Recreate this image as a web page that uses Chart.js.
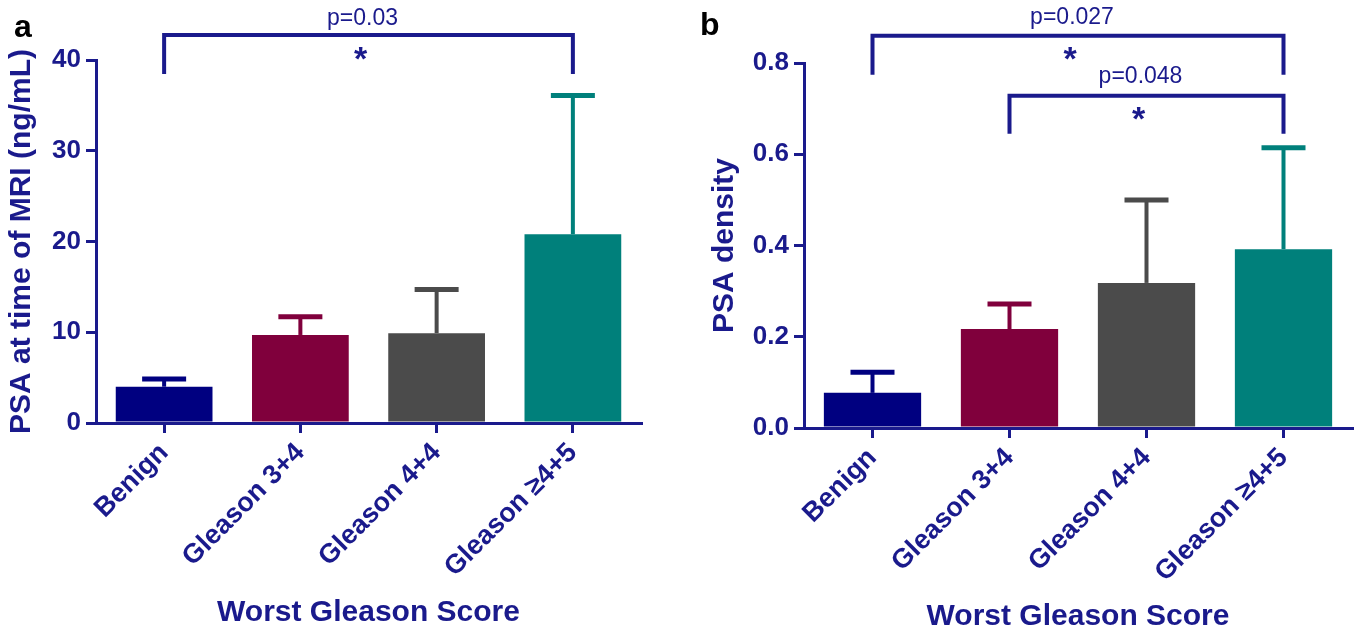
<!DOCTYPE html>
<html>
<head>
<meta charset="utf-8">
<script src="https://cdn.jsdelivr.net/npm/chart.js@4.4.1/dist/chart.umd.min.js"></script>
<style>
  html, body { margin: 0; padding: 0; background: #fff; }
  #wrap { position: relative; width: 1360px; height: 635px; overflow: hidden; }
  .panel { position: absolute; top: 0; width: 680px; height: 635px; }
</style>
</head>
<body>
<div id="wrap">
  <div class="panel" style="left:0"><canvas id="chart-a" width="680" height="635"></canvas></div>
  <div class="panel" style="left:680px"><canvas id="chart-b" width="680" height="635"></canvas></div>
</div>
<script>
const categories = ["Benign", "Gleason 3+4", "Gleason 4+4", "Gleason \u22654+5"];
const barColors = ["#000080", "#80003c", "#4b4b4b", "#00807b"];

// panel a: PSA at time of MRI (mean, upper error)
const psaMeans = [4.0, 9.7, 9.9, 20.8];
const psaErrors = [0.85, 2.0, 4.8, 15.3];
const psaTicks = [0, 10, 20, 30, 40];

// panel b: PSA density
const densityMeans = [0.077, 0.217, 0.318, 0.392];
const densityErrors = [0.045, 0.055, 0.182, 0.222];
const densityTicks = [0, 0.2, 0.4, 0.6, 0.8];

// significance brackets, in category index / y value units
const psaBrackets = [
  { from: 0, to: 3, level: 42.75, legEnd: 38.45, label: "p=0.03", labelAt: 44.6, starAt: 40.9 }
];
const densityBrackets = [
  { from: 0, to: 3, level: 0.86, legEnd: 0.774, label: "p=0.027", labelAt: 0.899, starAt: 0.825 },
  { from: 1, to: 3, level: 0.728, legEnd: 0.645, label: "p=0.048", labelAt: 0.77, starAt: 0.693 }
];

const NAVY = "#1a1a8c";
const FONT = '"Liberation Sans", Arial, Helvetica, sans-serif';

// draws upper error bars on top of each bar
const errorBars = {
  id: "errorBars",
  afterDatasetsDraw(chart, args, opts) {
    const ctx = chart.ctx;
    const y = chart.scales.y;
    const meta = chart.getDatasetMeta(0);
    ctx.save();
    ctx.lineCap = "butt";
    meta.data.forEach((bar, i) => {
      const top = y.getPixelForValue(opts.means[i]);
      const end = y.getPixelForValue(opts.means[i] + opts.errors[i]);
      ctx.strokeStyle = barColors[i];
      ctx.lineWidth = 4;
      ctx.beginPath();
      ctx.moveTo(bar.x, top);
      ctx.lineTo(bar.x, end);
      ctx.stroke();
      ctx.lineWidth = 5;
      ctx.beginPath();
      ctx.moveTo(bar.x - 22, end);
      ctx.lineTo(bar.x + 22, end);
      ctx.stroke();
    });
    ctx.restore();
  }
};

// significance brackets + panel letter
const brackets = {
  id: "brackets",
  afterDraw(chart, args, opts) {
    const ctx = chart.ctx;
    const x = chart.scales.x, y = chart.scales.y;
    ctx.save();
    opts.items.forEach(b => {
      const xl = x.getPixelForValue(b.from);
      const xr = x.getPixelForValue(b.to);
      const yt = y.getPixelForValue(b.level);
      const yl = y.getPixelForValue(b.legEnd);
      const xm = (xl + xr) / 2;
      ctx.strokeStyle = NAVY;
      ctx.lineWidth = 4;
      ctx.lineJoin = "miter";
      ctx.beginPath();
      ctx.moveTo(xl, yl);
      ctx.lineTo(xl, yt);
      ctx.lineTo(xr, yt);
      ctx.lineTo(xr, yl);
      ctx.stroke();
      ctx.fillStyle = NAVY;
      ctx.textAlign = "center";
      ctx.textBaseline = "middle";
      ctx.font = "23px " + FONT;
      ctx.fillText(b.label, xm - 6, y.getPixelForValue(b.labelAt));
      ctx.font = "bold 34px " + FONT;
      ctx.fillText("*", xm - 8, y.getPixelForValue(b.starAt) + 9);
    });
    ctx.fillStyle = "#000";
    ctx.textAlign = "left";
    ctx.textBaseline = "alphabetic";
    ctx.font = "bold 32px " + FONT;
    ctx.fillText(opts.letter, opts.letterX, opts.letterY);
    ctx.restore();
  }
};

function makeChart(id, cfg) {
  return new Chart(document.getElementById(id), {
    type: "bar",
    data: {
      labels: categories,
      datasets: [{
        data: cfg.means,
        backgroundColor: barColors,
        borderWidth: 0,
        categoryPercentage: 1,
        barPercentage: 0.71
      }]
    },
    options: {
      responsive: false,
      animation: false,
      devicePixelRatio: 1,
      layout: { padding: cfg.padding },
      plugins: {
        legend: { display: false },
        tooltip: { enabled: false },
        errorBars: { means: cfg.means, errors: cfg.errors },
        brackets: { items: cfg.brackets, letter: cfg.letter, letterX: cfg.letterX, letterY: cfg.letterY }
      },
      scales: {
        x: {
          afterFit: s => { s.height = cfg.xHeight; },
          border: { color: NAVY, width: 3 },
          grid: { offset: false, drawOnChartArea: false, drawTicks: true, tickLength: 10, color: NAVY, lineWidth: 3 },
          ticks: { color: NAVY, font: { family: FONT, size: 27, weight: "bold" }, minRotation: 45, maxRotation: 45, padding: 4 },
          title: { display: true, text: "Worst Gleason Score", color: NAVY, font: { family: FONT, size: 30, weight: "bold" }, padding: { top: 0, bottom: cfg.xTitlePad } }
        },
        y: {
          min: 0,
          max: cfg.ticks[cfg.ticks.length - 1],
          afterFit: s => { s.width = cfg.yWidth; },
          afterBuildTicks: s => { s.ticks = cfg.ticks.map(v => ({ value: v })); },
          border: { color: NAVY, width: 3 },
          grid: { drawOnChartArea: false, drawTicks: true, tickLength: 10, color: NAVY, lineWidth: 3 },
          ticks: { color: NAVY, font: { family: FONT, size: 26, weight: "bold" }, padding: 5, callback: cfg.fmt },
          title: { display: true, text: cfg.yTitle, color: NAVY, font: { family: FONT, size: 30, weight: "bold" }, padding: { top: cfg.yTitlePad, bottom: 0 } }
        }
      }
    },
    plugins: [errorBars, brackets]
  });
}

makeChart("chart-a", {
  means: psaMeans, errors: psaErrors, ticks: psaTicks,
  fmt: v => String(v),
  yTitle: "PSA at time of MRI (ng/mL)",
  padding: { top: 60, right: 39, bottom: 0, left: 0 },
  yWidth: 96, xHeight: 212, yTitlePad: 4, xTitlePad: 4,
  brackets: psaBrackets, letter: "a", letterX: 14, letterY: 37
});

makeChart("chart-b", {
  means: densityMeans, errors: densityErrors, ticks: densityTicks,
  fmt: v => v.toFixed(1),
  yTitle: "PSA density",
  padding: { top: 63, right: 8, bottom: 0, left: 0 },
  yWidth: 124, xHeight: 207, yTitlePad: 27, xTitlePad: 0,
  brackets: densityBrackets, letter: "b", letterX: 20, letterY: 35
});
</script>
</body>
</html>
